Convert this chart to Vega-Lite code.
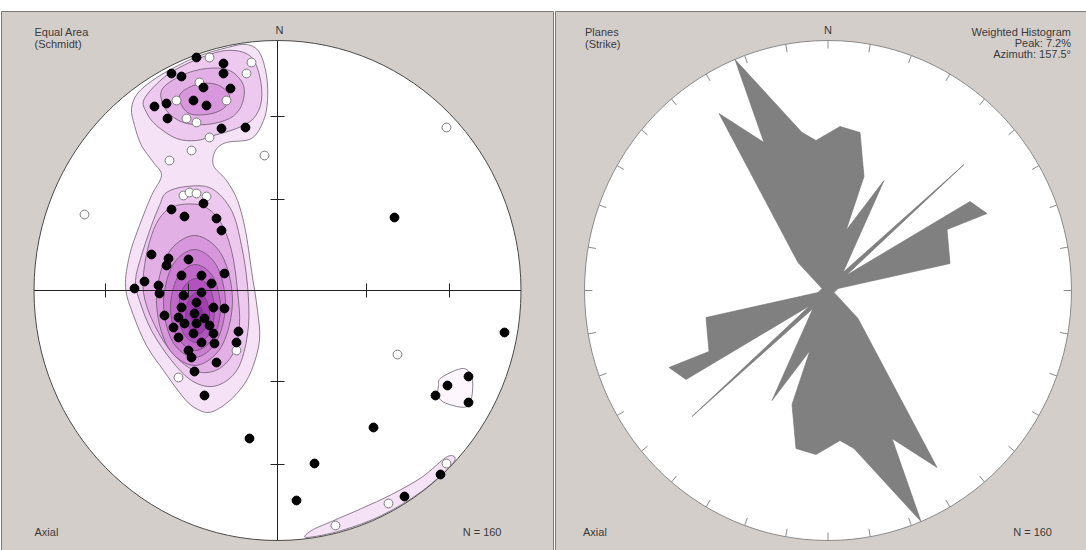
{
"$schema": "https://vega.github.io/schema/vega-lite/v6.json",
"background": "white",
"padding": {"left": 0, "right": 0, "top": 10, "bottom": 0},
"spacing": 0,
"config": {"view": {"fill": "#d4ceca", "stroke": "#7a7a7a", "strokeWidth": 1}, "text": {"font": "Liberation Sans"}},
"datasets": {
"contours": [
{"p":"p01","lvl":1,"i":0,"x":-140,"y":197},{"p":"p01","lvl":1,"i":1,"x":-125,"y":210},{"p":"p01","lvl":1,"i":2,"x":-105,"y":222},{"p":"p01","lvl":1,"i":3,"x":-80,"y":234},{"p":"p01","lvl":1,"i":4,"x":-50,"y":243},{"p":"p01","lvl":1,"i":5,"x":-31,"y":246},{"p":"p01","lvl":1,"i":6,"x":-18,"y":238},{"p":"p01","lvl":1,"i":7,"x":-11,"y":215},{"p":"p01","lvl":1,"i":8,"x":-10,"y":190},{"p":"p01","lvl":1,"i":9,"x":-14,"y":170},{"p":"p01","lvl":1,"i":10,"x":-26,"y":152},{"p":"p01","lvl":1,"i":11,"x":-51,"y":148},{"p":"p01","lvl":1,"i":12,"x":-62,"y":140},{"p":"p01","lvl":1,"i":13,"x":-64,"y":125},{"p":"p01","lvl":1,"i":14,"x":-51,"y":110},{"p":"p01","lvl":1,"i":15,"x":-40,"y":90},{"p":"p01","lvl":1,"i":16,"x":-32,"y":60},{"p":"p01","lvl":1,"i":17,"x":-26,"y":20},{"p":"p01","lvl":1,"i":18,"x":-20,"y":-20},{"p":"p01","lvl":1,"i":19,"x":-18,"y":-50},{"p":"p01","lvl":1,"i":20,"x":-26,"y":-80},{"p":"p01","lvl":1,"i":21,"x":-38,"y":-100},{"p":"p01","lvl":1,"i":22,"x":-54,"y":-115},{"p":"p01","lvl":1,"i":23,"x":-70,"y":-122},{"p":"p01","lvl":1,"i":24,"x":-86,"y":-115},{"p":"p01","lvl":1,"i":25,"x":-98,"y":-102},{"p":"p01","lvl":1,"i":26,"x":-114,"y":-80},{"p":"p01","lvl":1,"i":27,"x":-131,"y":-55},{"p":"p01","lvl":1,"i":28,"x":-144,"y":-25},{"p":"p01","lvl":1,"i":29,"x":-152,"y":3},{"p":"p01","lvl":1,"i":30,"x":-148,"y":35},{"p":"p01","lvl":1,"i":31,"x":-138,"y":65},{"p":"p01","lvl":1,"i":32,"x":-126,"y":95},{"p":"p01","lvl":1,"i":33,"x":-116,"y":115},{"p":"p01","lvl":1,"i":34,"x":-124,"y":128},{"p":"p01","lvl":1,"i":35,"x":-136,"y":145},{"p":"p01","lvl":1,"i":36,"x":-143,"y":165},{"p":"p01","lvl":1,"i":37,"x":-146,"y":182},
{"p":"p02","lvl":2,"i":0,"x":-133,"y":192},{"p":"p02","lvl":2,"i":1,"x":-111,"y":215},{"p":"p02","lvl":2,"i":2,"x":-81,"y":231},{"p":"p02","lvl":2,"i":3,"x":-51,"y":240},{"p":"p02","lvl":2,"i":4,"x":-28,"y":235},{"p":"p02","lvl":2,"i":5,"x":-18,"y":215},{"p":"p02","lvl":2,"i":6,"x":-16,"y":190},{"p":"p02","lvl":2,"i":7,"x":-24,"y":172},{"p":"p02","lvl":2,"i":8,"x":-41,"y":162},{"p":"p02","lvl":2,"i":9,"x":-64,"y":155},{"p":"p02","lvl":2,"i":10,"x":-81,"y":150},{"p":"p02","lvl":2,"i":11,"x":-101,"y":152},{"p":"p02","lvl":2,"i":12,"x":-121,"y":165},{"p":"p02","lvl":2,"i":13,"x":-131,"y":178},
{"p":"p03","lvl":3,"i":0,"x":-116,"y":200},{"p":"p03","lvl":3,"i":1,"x":-96,"y":215},{"p":"p03","lvl":3,"i":2,"x":-71,"y":222},{"p":"p03","lvl":3,"i":3,"x":-48,"y":220},{"p":"p03","lvl":3,"i":4,"x":-34,"y":205},{"p":"p03","lvl":3,"i":5,"x":-36,"y":185},{"p":"p03","lvl":3,"i":6,"x":-48,"y":172},{"p":"p03","lvl":3,"i":7,"x":-71,"y":166},{"p":"p03","lvl":3,"i":8,"x":-94,"y":168},{"p":"p03","lvl":3,"i":9,"x":-111,"y":180},
{"p":"p04","lvl":4,"i":0,"x":-98,"y":195},{"p":"p04","lvl":4,"i":1,"x":-81,"y":206},{"p":"p04","lvl":4,"i":2,"x":-61,"y":206},{"p":"p04","lvl":4,"i":3,"x":-48,"y":195},{"p":"p04","lvl":4,"i":4,"x":-54,"y":182},{"p":"p04","lvl":4,"i":5,"x":-71,"y":176},{"p":"p04","lvl":4,"i":6,"x":-90,"y":178},
{"p":"p05","lvl":2,"i":0,"x":-111,"y":98},{"p":"p05","lvl":2,"i":1,"x":-91,"y":104},{"p":"p05","lvl":2,"i":2,"x":-66,"y":102},{"p":"p05","lvl":2,"i":3,"x":-46,"y":80},{"p":"p05","lvl":2,"i":4,"x":-36,"y":45},{"p":"p05","lvl":2,"i":5,"x":-30,"y":5},{"p":"p05","lvl":2,"i":6,"x":-29,"y":-35},{"p":"p05","lvl":2,"i":7,"x":-36,"y":-70},{"p":"p05","lvl":2,"i":8,"x":-48,"y":-88},{"p":"p05","lvl":2,"i":9,"x":-66,"y":-96},{"p":"p05","lvl":2,"i":10,"x":-86,"y":-90},{"p":"p05","lvl":2,"i":11,"x":-106,"y":-70},{"p":"p05","lvl":2,"i":12,"x":-126,"y":-40},{"p":"p05","lvl":2,"i":13,"x":-138,"y":-10},{"p":"p05","lvl":2,"i":14,"x":-142,"y":10},{"p":"p05","lvl":2,"i":15,"x":-136,"y":35},{"p":"p05","lvl":2,"i":16,"x":-126,"y":65},{"p":"p05","lvl":2,"i":17,"x":-118,"y":85},
{"p":"p06","lvl":3,"i":0,"x":-116,"y":75},{"p":"p06","lvl":3,"i":1,"x":-101,"y":85},{"p":"p06","lvl":3,"i":2,"x":-76,"y":85},{"p":"p06","lvl":3,"i":3,"x":-58,"y":70},{"p":"p06","lvl":3,"i":4,"x":-46,"y":40},{"p":"p06","lvl":3,"i":5,"x":-40,"y":0},{"p":"p06","lvl":3,"i":6,"x":-38,"y":-35},{"p":"p06","lvl":3,"i":7,"x":-44,"y":-62},{"p":"p06","lvl":3,"i":8,"x":-58,"y":-78},{"p":"p06","lvl":3,"i":9,"x":-76,"y":-82},{"p":"p06","lvl":3,"i":10,"x":-93,"y":-74},{"p":"p06","lvl":3,"i":11,"x":-111,"y":-55},{"p":"p06","lvl":3,"i":12,"x":-126,"y":-28},{"p":"p06","lvl":3,"i":13,"x":-134,"y":-2},{"p":"p06","lvl":3,"i":14,"x":-133,"y":25},{"p":"p06","lvl":3,"i":15,"x":-126,"y":55},
{"p":"p07","lvl":4,"i":0,"x":-83,"y":55},{"p":"p07","lvl":4,"i":1,"x":-56,"y":36},{"p":"p07","lvl":4,"i":2,"x":-45,"y":-10},{"p":"p07","lvl":4,"i":3,"x":-56,"y":-56},{"p":"p07","lvl":4,"i":4,"x":-83,"y":-75},{"p":"p07","lvl":4,"i":5,"x":-110,"y":-56},{"p":"p07","lvl":4,"i":6,"x":-121,"y":-10},{"p":"p07","lvl":4,"i":7,"x":-110,"y":36},
{"p":"p08","lvl":5,"i":0,"x":-83,"y":41},{"p":"p08","lvl":5,"i":1,"x":-61,"y":25},{"p":"p08","lvl":5,"i":2,"x":-52,"y":-13},{"p":"p08","lvl":5,"i":3,"x":-61,"y":-51},{"p":"p08","lvl":5,"i":4,"x":-83,"y":-67},{"p":"p08","lvl":5,"i":5,"x":-105,"y":-51},{"p":"p08","lvl":5,"i":6,"x":-114,"y":-13},{"p":"p08","lvl":5,"i":7,"x":-105,"y":25},
{"p":"p09","lvl":6,"i":0,"x":-82,"y":26},{"p":"p09","lvl":6,"i":1,"x":-64,"y":13},{"p":"p09","lvl":6,"i":2,"x":-57,"y":-17},{"p":"p09","lvl":6,"i":3,"x":-64,"y":-47},{"p":"p09","lvl":6,"i":4,"x":-82,"y":-60},{"p":"p09","lvl":6,"i":5,"x":-100,"y":-47},{"p":"p09","lvl":6,"i":6,"x":-107,"y":-17},{"p":"p09","lvl":6,"i":7,"x":-100,"y":13},
{"p":"p10","lvl":7,"i":0,"x":-81,"y":12},{"p":"p10","lvl":7,"i":1,"x":-68,"y":3},{"p":"p10","lvl":7,"i":2,"x":-63,"y":-20},{"p":"p10","lvl":7,"i":3,"x":-68,"y":-43},{"p":"p10","lvl":7,"i":4,"x":-81,"y":-52},{"p":"p10","lvl":7,"i":5,"x":-94,"y":-43},{"p":"p10","lvl":7,"i":6,"x":-99,"y":-20},{"p":"p10","lvl":7,"i":7,"x":-94,"y":3},
{"p":"p11","lvl":8,"i":0,"x":-80,"y":-2},{"p":"p11","lvl":8,"i":1,"x":-72,"y":-8},{"p":"p11","lvl":8,"i":2,"x":-68,"y":-23},{"p":"p11","lvl":8,"i":3,"x":-72,"y":-38},{"p":"p11","lvl":8,"i":4,"x":-80,"y":-44},{"p":"p11","lvl":8,"i":5,"x":-88,"y":-38},{"p":"p11","lvl":8,"i":6,"x":-92,"y":-23},{"p":"p11","lvl":8,"i":7,"x":-88,"y":-8},
{"p":"p12","lvl":9,"i":0,"x":-80,"y":-15},{"p":"p12","lvl":9,"i":1,"x":-76,"y":-18},{"p":"p12","lvl":9,"i":2,"x":-74,"y":-26},{"p":"p12","lvl":9,"i":3,"x":-76,"y":-34},{"p":"p12","lvl":9,"i":4,"x":-80,"y":-37},{"p":"p12","lvl":9,"i":5,"x":-84,"y":-34},{"p":"p12","lvl":9,"i":6,"x":-86,"y":-26},{"p":"p12","lvl":9,"i":7,"x":-84,"y":-18},
{"p":"p13","lvl":1,"i":0,"x":29,"y":-247},{"p":"p13","lvl":1,"i":1,"x":64,"y":-240},{"p":"p13","lvl":1,"i":2,"x":104,"y":-225},{"p":"p13","lvl":1,"i":3,"x":144,"y":-201},{"p":"p13","lvl":1,"i":4,"x":176,"y":-172},{"p":"p13","lvl":1,"i":5,"x":170,"y":-166},{"p":"p13","lvl":1,"i":6,"x":144,"y":-187},{"p":"p13","lvl":1,"i":7,"x":114,"y":-204},{"p":"p13","lvl":1,"i":8,"x":84,"y":-218},{"p":"p13","lvl":1,"i":9,"x":54,"y":-231},{"p":"p13","lvl":1,"i":10,"x":34,"y":-240},
{"p":"p14","lvl":0,"i":0,"x":164,"y":-87},{"p":"p14","lvl":0,"i":1,"x":186,"y":-78},{"p":"p14","lvl":0,"i":2,"x":195,"y":-90},{"p":"p14","lvl":0,"i":3,"x":191,"y":-115},{"p":"p14","lvl":0,"i":4,"x":172,"y":-114},{"p":"p14","lvl":0,"i":5,"x":161,"y":-107},{"p":"p14","lvl":0,"i":6,"x":161,"y":-95}
],
"dots": [
{"k":"open","x":-68,"y":233},{"k":"open","x":-26,"y":228},{"k":"open","x":-31,"y":217},{"k":"open","x":-101,"y":190},{"k":"open","x":-78,"y":208},{"k":"open","x":-51,"y":190},{"k":"open","x":-91,"y":172},{"k":"open","x":-81,"y":168},{"k":"open","x":-68,"y":153},{"k":"open","x":-86,"y":140},{"k":"open","x":-108,"y":130},{"k":"open","x":-13,"y":135},
{"k":"open","x":-94,"y":95},{"k":"open","x":-88,"y":98},{"k":"open","x":-81,"y":97},{"k":"open","x":-71,"y":94},{"k":"open","x":-41,"y":-60},{"k":"open","x":-99,"y":-87},
{"k":"open","x":-193,"y":76},{"k":"open","x":169,"y":163},{"k":"open","x":120,"y":-64},{"k":"open","x":169,"y":-173},{"k":"open","x":58,"y":-235},{"k":"open","x":111,"y":-213},
{"k":"filled","x":-81,"y":233},{"k":"filled","x":-54,"y":227},{"k":"filled","x":-106,"y":217},{"k":"filled","x":-96,"y":214},{"k":"filled","x":-54,"y":217},{"k":"filled","x":-74,"y":203},{"k":"filled","x":-47,"y":202},{"k":"filled","x":-123,"y":184},{"k":"filled","x":-111,"y":187},{"k":"filled","x":-84,"y":190},{"k":"filled","x":-71,"y":185},{"k":"filled","x":-110,"y":172},{"k":"filled","x":-56,"y":162},{"k":"filled","x":-32,"y":163},
{"k":"filled","x":-106,"y":81},{"k":"filled","x":-93,"y":74},{"k":"filled","x":-74,"y":87},{"k":"filled","x":-61,"y":72},{"k":"filled","x":-56,"y":60},{"k":"filled","x":-126,"y":36},{"k":"filled","x":-109,"y":32},{"k":"filled","x":-111,"y":25},{"k":"filled","x":-89,"y":31},{"k":"filled","x":-96,"y":15},{"k":"filled","x":-76,"y":15},{"k":"filled","x":-53,"y":17},{"k":"filled","x":-133,"y":9},{"k":"filled","x":-143,"y":2},{"k":"filled","x":-119,"y":5},{"k":"filled","x":-118,"y":-3},{"k":"filled","x":-94,"y":-5},{"k":"filled","x":-76,"y":-2},{"k":"filled","x":-66,"y":7},{"k":"filled","x":-81,"y":-12},{"k":"filled","x":-96,"y":-17},{"k":"filled","x":-64,"y":-17},{"k":"filled","x":-53,"y":-18},{"k":"filled","x":-113,"y":-25},{"k":"filled","x":-99,"y":-27},{"k":"filled","x":-83,"y":-23},{"k":"filled","x":-73,"y":-28},{"k":"filled","x":-93,"y":-33},{"k":"filled","x":-81,"y":-33},{"k":"filled","x":-68,"y":-35},{"k":"filled","x":-104,"y":-37},{"k":"filled","x":-39,"y":-41},{"k":"filled","x":-41,"y":-52},{"k":"filled","x":-64,"y":-43},{"k":"filled","x":-99,"y":-47},{"k":"filled","x":-84,"y":-43},{"k":"filled","x":-63,"y":-53},{"k":"filled","x":-76,"y":-52},{"k":"filled","x":-89,"y":-60},{"k":"filled","x":-86,"y":-67},{"k":"filled","x":-61,"y":-72},{"k":"filled","x":-83,"y":-81},{"k":"filled","x":-73,"y":-105},
{"k":"filled","x":117,"y":73},{"k":"filled","x":227,"y":-42},{"k":"filled","x":-28,"y":-148},{"k":"filled","x":37,"y":-173},{"k":"filled","x":96,"y":-137},{"k":"filled","x":19,"y":-210},{"k":"filled","x":127,"y":-206},{"k":"filled","x":163,"y":-184},{"k":"filled","x":170,"y":-95},{"k":"filled","x":191,"y":-86},{"k":"filled","x":158,"y":-105},{"k":"filled","x":191,"y":-112}
],
"ticksL": [
{"x":-7,"x2":7,"y":91,"y2":91},{"x":-7,"x2":7,"y":174,"y2":174},{"x":-7,"x2":7,"y":-91,"y2":-91},{"x":-7,"x2":7,"y":-174,"y2":-174},
{"x":-172,"x2":-172,"y":-7,"y2":7},{"x":-89,"x2":-89,"y":-7,"y2":7},{"x":89,"x2":89,"y":-7,"y2":7},{"x":172,"x2":172,"y":-7,"y2":7}
],
"rim": [
{"x":0,"y":250,"x2":0,"y2":242},{"x":42.3,"y":246.2,"x2":40.9,"y2":238.3},{"x":83.3,"y":234.9,"x2":80.6,"y2":227.4},{"x":121.8,"y":216.5,"x2":117.9,"y2":209.6},{"x":156.5,"y":191.5,"x2":151.5,"y2":185.4},{"x":186.5,"y":160.7,"x2":180.5,"y2":155.6},{"x":210.9,"y":125,"x2":204.1,"y2":121},{"x":228.8,"y":85.5,"x2":221.5,"y2":82.8},{"x":239.8,"y":43.4,"x2":232.1,"y2":42},
{"x":243.5,"y":0,"x2":235.7,"y2":0},{"x":239.8,"y":-43.4,"x2":232.1,"y2":-42},{"x":228.8,"y":-85.5,"x2":221.5,"y2":-82.8},{"x":210.9,"y":-125,"x2":204.1,"y2":-121},{"x":186.5,"y":-160.7,"x2":180.5,"y2":-155.6},{"x":156.5,"y":-191.5,"x2":151.5,"y2":-185.4},{"x":121.8,"y":-216.5,"x2":117.9,"y2":-209.6},{"x":83.3,"y":-234.9,"x2":80.6,"y2":-227.4},{"x":42.3,"y":-246.2,"x2":40.9,"y2":-238.3},
{"x":0,"y":-250,"x2":0,"y2":-242},{"x":-42.3,"y":-246.2,"x2":-40.9,"y2":-238.3},{"x":-83.3,"y":-234.9,"x2":-80.6,"y2":-227.4},{"x":-121.8,"y":-216.5,"x2":-117.9,"y2":-209.6},{"x":-156.5,"y":-191.5,"x2":-151.5,"y2":-185.4},{"x":-186.5,"y":-160.7,"x2":-180.5,"y2":-155.6},{"x":-210.9,"y":-125,"x2":-204.1,"y2":-121},{"x":-228.8,"y":-85.5,"x2":-221.5,"y2":-82.8},{"x":-239.8,"y":-43.4,"x2":-232.1,"y2":-42},
{"x":-243.5,"y":0,"x2":-235.7,"y2":0},{"x":-239.8,"y":43.4,"x2":-232.1,"y2":42},{"x":-228.8,"y":85.5,"x2":-221.5,"y2":82.8},{"x":-210.9,"y":125,"x2":-204.1,"y2":121},{"x":-186.5,"y":160.7,"x2":-180.5,"y2":155.6},{"x":-156.5,"y":191.5,"x2":-151.5,"y2":185.4},{"x":-121.8,"y":216.5,"x2":-117.9,"y2":209.6},{"x":-83.3,"y":234.9,"x2":-80.6,"y2":227.4},{"x":-42.3,"y":246.2,"x2":-40.9,"y2":238.3}
],
"rose": [
{"i":0,"x":-6,"y":2},{"i":1,"x":-30,"y":28},{"i":2,"x":-109,"y":177},{"i":3,"x":-64,"y":148},{"i":4,"x":-93,"y":231},{"i":5,"x":-26,"y":158},{"i":6,"x":-12,"y":150},{"i":7,"x":12,"y":164},{"i":8,"x":32,"y":158},{"i":9,"x":36,"y":114},{"i":10,"x":18,"y":60},{"i":11,"x":56,"y":110},{"i":12,"x":15,"y":18},{"i":13,"x":136,"y":126},{"i":14,"x":18,"y":15},{"i":15,"x":142,"y":89},{"i":16,"x":159,"y":77},{"i":17,"x":119,"y":61},{"i":18,"x":122,"y":27},{"i":19,"x":10,"y":2},
{"i":20,"x":6,"y":-2},{"i":21,"x":30,"y":-28},{"i":22,"x":109,"y":-177},{"i":23,"x":64,"y":-148},{"i":24,"x":93,"y":-231},{"i":25,"x":26,"y":-158},{"i":26,"x":12,"y":-150},{"i":27,"x":-12,"y":-164},{"i":28,"x":-32,"y":-158},{"i":29,"x":-36,"y":-114},{"i":30,"x":-18,"y":-60},{"i":31,"x":-56,"y":-110},{"i":32,"x":-15,"y":-18},{"i":33,"x":-136,"y":-126},{"i":34,"x":-18,"y":-15},{"i":35,"x":-142,"y":-89},{"i":36,"x":-159,"y":-77},{"i":37,"x":-119,"y":-61},{"i":38,"x":-122,"y":-27},{"i":39,"x":-10,"y":-2}
]
},
"hconcat": [
{
"width": 552, "height": 540,
"layer": [
{"data": {"values": [{}]}, "mark": {"type": "point", "shape": "M-0.974,0A0.974,1,0,1,1,0.974,0A0.974,1,0,1,1,-0.974,0Z", "size": 250000, "filled": true, "fill": "white", "stroke": "#4a4a4a", "strokeWidth": 1, "opacity": 1},
 "encoding": {"x": {"datum": 0, "type": "quantitative", "scale": {"domain": [-276.5, 275.5], "nice": false, "zero": false}, "axis": null}, "y": {"datum": 0, "type": "quantitative", "scale": {"domain": [-260.5, 279.5], "nice": false, "zero": false}, "axis": null}}},
{"data": {"name": "contours"}, "mark": {"type": "line", "interpolate": "cardinal-closed", "stroke": "#5a4a5c", "strokeWidth": 0.7, "opacity": 1},
 "encoding": {"x": {"field": "x", "type": "quantitative", "scale": {"domain": [-276.5, 275.5], "nice": false, "zero": false}, "axis": null}, "y": {"field": "y", "type": "quantitative", "scale": {"domain": [-260.5, 279.5], "nice": false, "zero": false}, "axis": null},
  "fill": {"field": "lvl", "type": "ordinal", "scale": {"domain": [0,1,2,3,4,5,6,7,8,9], "range": ["#fdf7fd","#f6e2f6","#edc8ef","#e3b0e6","#d897dc","#cc7fd2","#bf68c8","#b152be","#a23eb2","#8e2aa4"]}, "legend": null},
  "detail": {"field": "p"}, "order": {"field": "i", "type": "quantitative"}}},
{"data": {"values": [{}]}, "mark": {"type": "rule", "color": "#222222", "strokeWidth": 1},
 "encoding": {"x": {"datum": -243.5, "type": "quantitative", "scale": {"domain": [-276.5, 275.5], "nice": false, "zero": false}, "axis": null}, "x2": {"datum": 243.5}, "y": {"datum": 0, "type": "quantitative", "scale": {"domain": [-260.5, 279.5], "nice": false, "zero": false}, "axis": null}}},
{"data": {"values": [{}]}, "mark": {"type": "rule", "color": "#222222", "strokeWidth": 1},
 "encoding": {"x": {"datum": 0, "type": "quantitative", "scale": {"domain": [-276.5, 275.5], "nice": false, "zero": false}, "axis": null}, "y": {"datum": -250, "type": "quantitative", "scale": {"domain": [-260.5, 279.5], "nice": false, "zero": false}, "axis": null}, "y2": {"datum": 250}}},
{"data": {"name": "ticksL"}, "mark": {"type": "rule", "color": "#222222", "strokeWidth": 1},
 "encoding": {"x": {"field": "x", "type": "quantitative", "scale": {"domain": [-276.5, 275.5], "nice": false, "zero": false}, "axis": null}, "x2": {"field": "x2"}, "y": {"field": "y", "type": "quantitative", "scale": {"domain": [-260.5, 279.5], "nice": false, "zero": false}, "axis": null}, "y2": {"field": "y2"}}},
{"data": {"name": "dots"}, "transform": [{"filter": "datum.k === 'open'"}], "mark": {"type": "point", "shape": "circle", "size": 78, "filled": true, "fill": "#ffffff", "stroke": "#7a7a7a", "opacity": 1, "strokeWidth": 1},
 "encoding": {"x": {"field": "x", "type": "quantitative", "scale": {"domain": [-276.5, 275.5], "nice": false, "zero": false}, "axis": null}, "y": {"field": "y", "type": "quantitative", "scale": {"domain": [-260.5, 279.5], "nice": false, "zero": false}, "axis": null}}},
{"data": {"name": "dots"}, "transform": [{"filter": "datum.k === 'filled'"}], "mark": {"type": "point", "shape": "circle", "size": 78, "filled": true, "fill": "#000000", "stroke": "#000000", "opacity": 1, "strokeWidth": 1},
 "encoding": {"x": {"field": "x", "type": "quantitative", "scale": {"domain": [-276.5, 275.5], "nice": false, "zero": false}, "axis": null}, "y": {"field": "y", "type": "quantitative", "scale": {"domain": [-260.5, 279.5], "nice": false, "zero": false}, "axis": null}}},
{"data": {"values": [{}]}, "mark": {"type": "text", "align": "left", "baseline": "top", "fontSize": 11, "lineHeight": 12, "lineBreak": "\n", "color": "#3a3a3a"},
 "encoding": {"x": {"datum": -243, "type": "quantitative", "scale": {"domain": [-276.5, 275.5], "nice": false, "zero": false}, "axis": null}, "y": {"datum": 264, "type": "quantitative", "scale": {"domain": [-260.5, 279.5], "nice": false, "zero": false}, "axis": null}, "text": {"value": "Equal Area\n(Schmidt)"}}},
{"data": {"values": [{}]}, "mark": {"type": "text", "align": "center", "baseline": "middle", "fontSize": 11, "color": "#3a3a3a"},
 "encoding": {"x": {"datum": 2, "type": "quantitative", "scale": {"domain": [-276.5, 275.5], "nice": false, "zero": false}, "axis": null}, "y": {"datum": 260, "type": "quantitative", "scale": {"domain": [-260.5, 279.5], "nice": false, "zero": false}, "axis": null}, "text": {"value": "N"}}},
{"data": {"values": [{}]}, "mark": {"type": "text", "align": "left", "baseline": "middle", "fontSize": 11, "color": "#3a3a3a"},
 "encoding": {"x": {"datum": -243, "type": "quantitative", "scale": {"domain": [-276.5, 275.5], "nice": false, "zero": false}, "axis": null}, "y": {"datum": -242, "type": "quantitative", "scale": {"domain": [-260.5, 279.5], "nice": false, "zero": false}, "axis": null}, "text": {"value": "Axial"}}},
{"data": {"values": [{}]}, "mark": {"type": "text", "align": "right", "baseline": "middle", "fontSize": 11, "color": "#3a3a3a"},
 "encoding": {"x": {"datum": 224, "type": "quantitative", "scale": {"domain": [-276.5, 275.5], "nice": false, "zero": false}, "axis": null}, "y": {"datum": -242, "type": "quantitative", "scale": {"domain": [-260.5, 279.5], "nice": false, "zero": false}, "axis": null}, "text": {"value": "N = 160"}}}
]
},
{
"width": 534, "height": 540,
"layer": [
{"data": {"values": [{}]}, "mark": {"type": "point", "shape": "M-0.974,0A0.974,1,0,1,1,0.974,0A0.974,1,0,1,1,-0.974,0Z", "size": 250000, "filled": true, "fill": "white", "stroke": "#8a8a8a", "strokeWidth": 1, "opacity": 1},
 "encoding": {"x": {"datum": 0, "type": "quantitative", "scale": {"domain": [-273, 261], "nice": false, "zero": false}, "axis": null}, "y": {"datum": 0, "type": "quantitative", "scale": {"domain": [-260.5, 279.5], "nice": false, "zero": false}, "axis": null}}},
{"data": {"name": "rim"}, "mark": {"type": "rule", "color": "#8a8a8a", "strokeWidth": 1},
 "encoding": {"x": {"field": "x", "type": "quantitative", "scale": {"domain": [-273, 261], "nice": false, "zero": false}, "axis": null}, "x2": {"field": "x2"}, "y": {"field": "y", "type": "quantitative", "scale": {"domain": [-260.5, 279.5], "nice": false, "zero": false}, "axis": null}, "y2": {"field": "y2"}}},
{"data": {"name": "rose"}, "mark": {"type": "line", "interpolate": "linear-closed", "fill": "#808080", "stroke": "#707070", "strokeWidth": 0.6, "opacity": 1},
 "encoding": {"x": {"field": "x", "type": "quantitative", "scale": {"domain": [-273, 261], "nice": false, "zero": false}, "axis": null}, "y": {"field": "y", "type": "quantitative", "scale": {"domain": [-260.5, 279.5], "nice": false, "zero": false}, "axis": null}, "order": {"field": "i", "type": "quantitative"}}},
{"data": {"values": [{}]}, "mark": {"type": "text", "align": "left", "baseline": "top", "fontSize": 11, "lineHeight": 12, "lineBreak": "\n", "color": "#3a3a3a"},
 "encoding": {"x": {"datum": -243, "type": "quantitative", "scale": {"domain": [-273, 261], "nice": false, "zero": false}, "axis": null}, "y": {"datum": 264, "type": "quantitative", "scale": {"domain": [-260.5, 279.5], "nice": false, "zero": false}, "axis": null}, "text": {"value": "Planes\n(Strike)"}}},
{"data": {"values": [{}]}, "mark": {"type": "text", "align": "right", "baseline": "top", "fontSize": 11, "lineHeight": 11, "lineBreak": "\n", "color": "#3a3a3a"},
 "encoding": {"x": {"datum": 243, "type": "quantitative", "scale": {"domain": [-273, 261], "nice": false, "zero": false}, "axis": null}, "y": {"datum": 264, "type": "quantitative", "scale": {"domain": [-260.5, 279.5], "nice": false, "zero": false}, "axis": null}, "text": {"value": "Weighted Histogram\nPeak: 7.2%\nAzimuth: 157.5°"}}},
{"data": {"values": [{}]}, "mark": {"type": "text", "align": "center", "baseline": "middle", "fontSize": 11, "color": "#3a3a3a"},
 "encoding": {"x": {"datum": 0, "type": "quantitative", "scale": {"domain": [-273, 261], "nice": false, "zero": false}, "axis": null}, "y": {"datum": 260, "type": "quantitative", "scale": {"domain": [-260.5, 279.5], "nice": false, "zero": false}, "axis": null}, "text": {"value": "N"}}},
{"data": {"values": [{}]}, "mark": {"type": "text", "align": "left", "baseline": "middle", "fontSize": 11, "color": "#3a3a3a"},
 "encoding": {"x": {"datum": -245, "type": "quantitative", "scale": {"domain": [-273, 261], "nice": false, "zero": false}, "axis": null}, "y": {"datum": -242, "type": "quantitative", "scale": {"domain": [-260.5, 279.5], "nice": false, "zero": false}, "axis": null}, "text": {"value": "Axial"}}},
{"data": {"values": [{}]}, "mark": {"type": "text", "align": "right", "baseline": "middle", "fontSize": 11, "color": "#3a3a3a"},
 "encoding": {"x": {"datum": 224, "type": "quantitative", "scale": {"domain": [-273, 261], "nice": false, "zero": false}, "axis": null}, "y": {"datum": -242, "type": "quantitative", "scale": {"domain": [-260.5, 279.5], "nice": false, "zero": false}, "axis": null}, "text": {"value": "N = 160"}}}
]
}
]
}
